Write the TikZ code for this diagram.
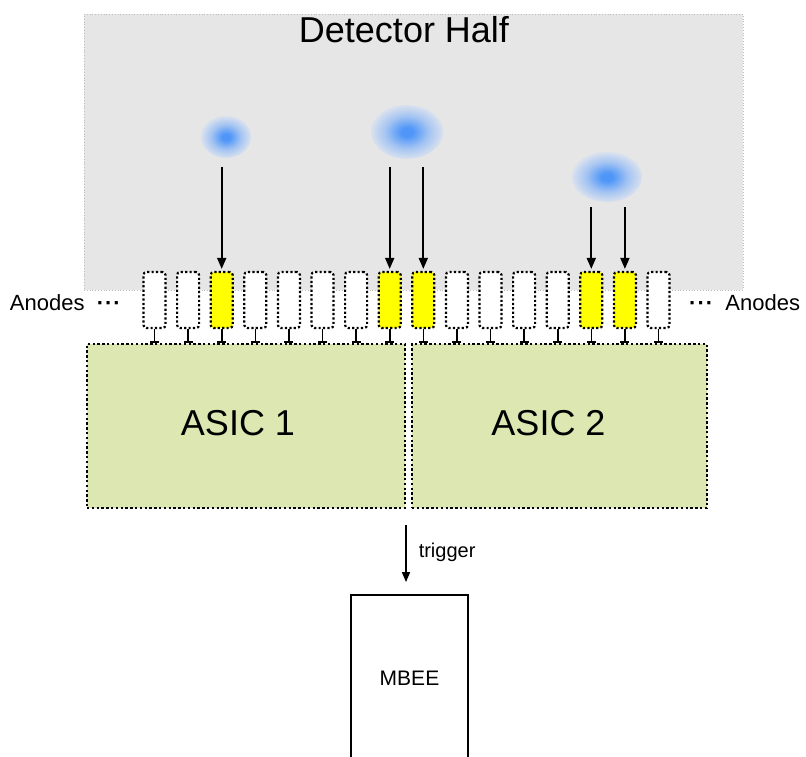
\documentclass[tikz,border=0pt]{standalone}
\usepackage{fontspec}
\setmainfont{Liberation Sans}
\usetikzlibrary{arrows.meta, positioning, shapes.geometric, calc}
\definecolor{dhGray}{HTML}{E6E6E6}
\definecolor{dhLine}{HTML}{BDBDBD}
\definecolor{asicGreen}{HTML}{DCE7B1}
\definecolor{hitYellow}{HTML}{FFFF00}
\definecolor{blobCore}{HTML}{5096F8}
\definecolor{blobMid}{HTML}{A4C4F2}
\definecolor{blobEdge}{HTML}{D9E1EE}
\pgfdeclareradialshading{blobshade}{\pgfpoint{0bp}{0bp}}{color(0bp)=(blobCore); color(4bp)=(blobCore); color(15bp)=(blobMid); color(25bp)=(blobEdge); color(50bp)=(blobEdge)}

\begin{document}
\begin{tikzpicture}[
  x=1pt, y=-1pt,
  anode/.style={draw, line width=2.2pt, dash pattern=on 2.2pt off 2.2pt,
                rounded corners=3pt, minimum width=22pt, minimum height=56pt, inner sep=0pt},
  asic/.style={draw, fill=asicGreen, line width=2.4pt, dash pattern=on 2.4pt off 2.4pt,
               minimum height=164pt, inner sep=0pt},
  asictext/.style={font=\fontsize{36}{40}\selectfont, inner sep=0pt},
  blob/.style={ellipse, shading=blobshade, inner sep=0pt},
  hit/.style={line width=1.8pt, -{Triangle[width=9pt,length=11pt]}},
  stem/.style={line width=1.6pt, -{Bar[width=9pt]}},
  lbl/.style={font=\fontsize{22}{26}\selectfont, inner sep=0pt},
]
\useasboundingbox (0,0) rectangle (806,756);

% ---------------- Detector half ----------------
\node[draw=dhLine, fill=dhGray, dotted, line width=0.8pt,
      minimum width=659pt, minimum height=276pt] (det) at (413.5,152) {};
\node[font=\fontsize{36}{40}\selectfont, inner sep=0pt] (title) at (404,30) {Detector Half};

% ---------------- Charge clouds ----------------
\node[blob, minimum width=50pt, minimum height=42pt] (b1) at (226,137) {};
\node[blob, minimum width=72pt, minimum height=54pt] (b2) at (407,132) {};
\node[blob, minimum width=70pt, minimum height=50pt] (b3) at (607,177) {};

% ---------------- ASICs ----------------
\node[asic, minimum width=318pt] (asicA) at (246,426) {};
\node[asic, minimum width=295pt] (asicB) at (559.5,426) {};
\node[asictext, xshift=-8pt, yshift=3pt] at (asicA) {ASIC 1};
\node[asictext, xshift=-11pt, yshift=3pt] at (asicB) {ASIC 2};

% ---------------- Anodes ----------------
\foreach \i/\c in {0/white,1/white,2/hitYellow,3/white,4/white,5/white,6/white,7/hitYellow,
                   8/hitYellow,9/white,10/white,11/white,12/white,13/hitYellow,14/hitYellow,15/white}
  \node[anode, fill=\c] (a\i) at ({154.5+33.6*\i},300) {};
\foreach \i in {0,...,15}
  \draw[stem] (a\i.south) -- (a\i.south |- asicA.north);

\node[lbl, anchor=east] (anL) at (121,303) {Anodes\ \ {\bfseries ·\kern1pt·\kern1pt·}};
\node[lbl, anchor=west] (anR) at (689,303) {{\bfseries ·\kern1pt·\kern1pt·}\ \ Anodes};

% ---------------- Hits ----------------
\draw[hit, shorten <=9pt, shorten >=2pt] (a2.north |- b1.south) -- (a2.north);
\draw[hit, shorten <=8pt, shorten >=2pt] (a7.north |- b2.south) -- (a7.north);
\draw[hit, shorten <=8pt, shorten >=2pt] (a8.north |- b2.south) -- (a8.north);
\draw[hit, shorten <=5pt, shorten >=2pt] (a13.north |- b3.south) -- (a13.north);
\draw[hit, shorten <=5pt, shorten >=2pt] (a14.north |- b3.south) -- (a14.north);

% ---------------- Trigger to MBEE ----------------
\coordinate (trig) at (406,525);
\node[draw, line width=1.8pt, minimum width=117pt, minimum height=166pt, inner sep=0pt,
      font=\fontsize{21}{24}\selectfont] (mbee) at (409.5,678) {MBEE};
\draw[line width=1.5pt, -{Triangle[width=8pt,length=10pt]}, shorten >=12pt]
  (trig) -- (trig |- mbee.north)
  node[pos=0.4, right=12pt, font=\fontsize{20}{24}\selectfont, inner sep=0pt] (trigLbl) {trigger};
\end{tikzpicture}
\end{document}
